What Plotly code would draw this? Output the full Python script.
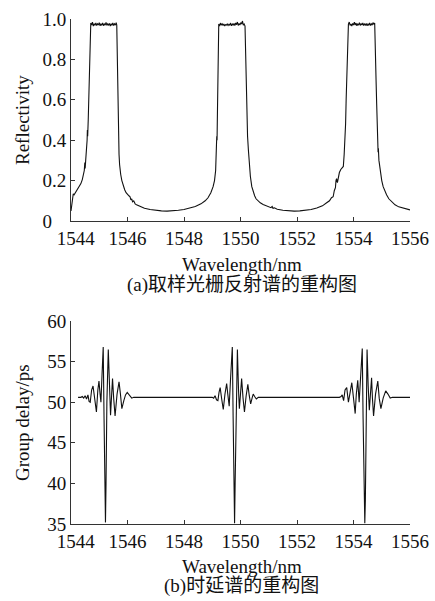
import plotly.graph_objects as go

# ---------------- data ----------------
# (a) reflectivity spectrum
wl_refl = [
    1544.00, 1544.03, 1544.06, 1544.08, 1544.11, 1544.15, 1544.20, 1544.25, 1544.30, 1544.35,
    1544.40, 1544.44, 1544.47, 1544.49, 1544.50, 1544.52, 1544.55, 1544.57, 1544.58, 1544.59,
    1544.61, 1544.63, 1544.65, 1544.67, 1544.69,
    1544.70, 1544.73, 1544.76, 1544.79, 1544.82, 1544.85, 1544.88, 1544.91, 1544.94, 1544.97,
    1545.00, 1545.03, 1545.06, 1545.09, 1545.12, 1545.15, 1545.18, 1545.21, 1545.24, 1545.27,
    1545.30, 1545.33, 1545.36, 1545.39, 1545.42, 1545.45, 1545.48, 1545.51, 1545.54, 1545.57,
    1545.60, 1545.62,
    1545.63, 1545.64, 1545.65, 1545.66, 1545.67, 1545.68, 1545.70, 1545.72, 1545.73, 1545.74,
    1545.76, 1545.80, 1545.85, 1545.90, 1545.95, 1546.00, 1546.05, 1546.09, 1546.12, 1546.15,
    1546.18, 1546.22, 1546.27, 1546.32, 1546.40, 1546.50, 1546.60, 1546.80, 1547.00, 1547.20,
    1547.40, 1547.60, 1547.80, 1548.00, 1548.20, 1548.40, 1548.60, 1548.75, 1548.85, 1548.95,
    1549.03, 1549.08, 1549.12, 1549.14, 1549.15, 1549.16, 1549.17, 1549.18, 1549.20, 1549.21,
    1549.22,
    1549.23, 1549.26, 1549.29, 1549.32, 1549.35, 1549.38, 1549.41, 1549.44, 1549.47, 1549.50,
    1549.53, 1549.56, 1549.59, 1549.62, 1549.65, 1549.68, 1549.71, 1549.74, 1549.77, 1549.80,
    1549.83, 1549.86, 1549.89, 1549.92, 1549.95, 1549.98, 1550.01, 1550.04, 1550.07, 1550.10,
    1550.13, 1550.16,
    1550.18, 1550.19, 1550.21, 1550.23, 1550.25, 1550.28, 1550.31, 1550.35, 1550.40, 1550.45,
    1550.50, 1550.55, 1550.62, 1550.70, 1550.80, 1550.90, 1551.00, 1551.08, 1551.12, 1551.15,
    1551.20, 1551.30, 1551.50, 1551.70, 1551.90, 1552.10, 1552.30, 1552.50, 1552.70, 1552.90,
    1553.05, 1553.15, 1553.22, 1553.28, 1553.32, 1553.36, 1553.38, 1553.40, 1553.43, 1553.46,
    1553.50, 1553.55, 1553.60, 1553.64, 1553.67, 1553.70, 1553.72, 1553.74, 1553.76, 1553.78,
    1553.80,
    1553.82, 1553.85, 1553.88, 1553.91, 1553.94, 1553.97, 1554.00, 1554.03, 1554.06, 1554.09,
    1554.12, 1554.15, 1554.18, 1554.21, 1554.24, 1554.27, 1554.30, 1554.33, 1554.36, 1554.39,
    1554.42, 1554.45, 1554.48, 1554.51, 1554.54, 1554.57, 1554.60, 1554.63, 1554.66, 1554.69,
    1554.72, 1554.75,
    1554.77, 1554.78, 1554.80, 1554.82, 1554.84, 1554.86, 1554.87, 1554.88, 1554.90, 1554.93,
    1554.96, 1555.00, 1555.05, 1555.10, 1555.17, 1555.25, 1555.35, 1555.47, 1555.60, 1555.71,
    1555.85, 1556.00,
]
reflectivity = [
    0.050, 0.090, 0.125, 0.135, 0.130, 0.140, 0.150, 0.160, 0.170, 0.185,
    0.205, 0.225, 0.250, 0.290, 0.260, 0.300, 0.340, 0.400, 0.450, 0.420,
    0.500, 0.650, 0.800, 0.900, 0.965,
    0.980, 0.970, 0.985, 0.965, 0.975, 0.970, 0.980, 0.968, 0.976, 0.970,
    0.982, 0.966, 0.975, 0.970, 0.980, 0.967, 0.975, 0.970, 0.983, 0.968,
    0.976, 0.970, 0.978, 0.965, 0.975, 0.970, 0.980, 0.968, 0.976, 0.970,
    0.982, 0.970,
    0.850, 0.740, 0.700, 0.550, 0.430, 0.400, 0.330, 0.280, 0.260, 0.270,
    0.230, 0.200, 0.175, 0.155, 0.140, 0.130, 0.125, 0.120, 0.105, 0.110,
    0.095, 0.100, 0.085, 0.080, 0.075, 0.068, 0.063, 0.057, 0.053, 0.050,
    0.049, 0.050, 0.053, 0.057, 0.063, 0.072, 0.085, 0.100, 0.115, 0.140,
    0.170, 0.200, 0.250, 0.300, 0.380, 0.420, 0.400, 0.500, 0.700, 0.850,
    0.950,
    0.975, 0.965, 0.980, 0.970, 0.976, 0.968, 0.975, 0.965, 0.972, 0.970,
    0.975, 0.968, 0.974, 0.970, 0.980, 0.966, 0.975, 0.970, 0.978, 0.968,
    0.980, 0.972, 0.985, 0.968, 0.978, 0.970, 0.982, 0.975, 0.990, 0.970,
    0.975, 0.965,
    0.850, 0.700, 0.600, 0.500, 0.420, 0.350, 0.280, 0.220, 0.170, 0.145,
    0.125, 0.110, 0.100, 0.090, 0.082, 0.075, 0.070, 0.066, 0.072, 0.063,
    0.065, 0.058, 0.053, 0.050, 0.049, 0.050, 0.053, 0.057, 0.064, 0.075,
    0.090, 0.100, 0.115, 0.120, 0.150, 0.165, 0.200, 0.210, 0.190, 0.220,
    0.240, 0.255, 0.265, 0.270, 0.330, 0.400, 0.480, 0.600, 0.720, 0.880,
    0.970,
    0.975, 0.985, 0.968, 0.975, 0.965, 0.978, 0.970, 0.985, 0.970, 0.980,
    0.966, 0.975, 0.970, 0.982, 0.968, 0.976, 0.970, 0.980, 0.968, 0.975,
    0.970, 0.978, 0.966, 0.975, 0.970, 0.980, 0.968, 0.976, 0.970, 0.982,
    0.975, 0.980,
    0.900, 0.800, 0.690, 0.580, 0.450, 0.360, 0.340, 0.360, 0.300, 0.260,
    0.230, 0.200, 0.170, 0.150, 0.130, 0.110, 0.095, 0.080, 0.070, 0.065,
    0.060, 0.055,
]

# (b) group delay spectrum
wl_delay = [
    1544.25, 1544.35, 1544.40, 1544.45, 1544.50, 1544.55, 1544.60, 1544.64, 1544.68, 1544.73,
    1544.78, 1544.84, 1544.90, 1544.95, 1544.99, 1545.03, 1545.06, 1545.10, 1545.14, 1545.17,
    1545.20, 1545.22, 1545.24, 1545.27, 1545.32, 1545.36, 1545.40, 1545.44, 1545.47, 1545.51,
    1545.56, 1545.63, 1545.70, 1545.75, 1545.80, 1545.87, 1545.93, 1545.99, 1546.07, 1546.15,
    1546.22,
    1549.00, 1549.05, 1549.10, 1549.15, 1549.20, 1549.24, 1549.28, 1549.33, 1549.39, 1549.45,
    1549.51, 1549.55, 1549.60, 1549.65, 1549.71, 1549.74, 1549.77, 1549.79, 1549.81, 1549.84,
    1549.89, 1549.93, 1549.96, 1550.00, 1550.04, 1550.09, 1550.14, 1550.20, 1550.26, 1550.31,
    1550.36, 1550.41, 1550.45, 1550.50, 1550.56, 1550.63,
    1553.50, 1553.56, 1553.60, 1553.65, 1553.70, 1553.76, 1553.82, 1553.87, 1553.94, 1554.00,
    1554.06, 1554.10, 1554.15, 1554.20, 1554.26, 1554.31, 1554.34, 1554.37, 1554.40, 1554.42,
    1554.45, 1554.48, 1554.52, 1554.56, 1554.60, 1554.64, 1554.67, 1554.71, 1554.78, 1554.86,
    1554.91, 1554.97, 1555.05, 1555.14, 1555.22, 1555.30, 1555.38, 1556.00,
]
group_delay = [
    50.6, 50.6, 50.7, 50.5, 50.8, 50.4, 50.9, 50.1, 50.0, 51.5,
    52.0, 50.5, 48.8, 51.5, 52.6, 51.0, 50.0, 53.5, 56.8, 48.0,
    37.5, 35.2, 40.0, 50.0, 56.5, 51.5, 48.4, 51.0, 52.9, 50.5,
    48.3, 51.0, 52.5, 51.0, 49.2, 50.2, 50.9, 51.2, 50.8, 50.5,
    50.6,
    50.6, 50.5, 50.8, 50.3, 50.2, 51.2, 51.8, 50.5, 49.1, 51.0,
    52.3, 51.0, 49.5, 53.0, 56.8, 48.0, 37.5, 35.1, 40.0, 49.0,
    56.5, 51.5, 49.2, 51.0, 52.9, 50.5, 48.8, 50.8, 52.2, 50.8,
    49.8, 50.5, 51.0, 50.7, 50.4, 50.6,
    50.6, 50.7, 50.9, 50.2, 51.5, 51.8, 50.0, 51.0, 52.4, 50.5,
    48.6, 51.0, 52.7, 50.0, 53.5, 56.6, 48.0, 40.0, 35.1, 38.0,
    48.0, 56.5, 52.0, 49.0, 51.0, 53.0, 50.5, 48.3, 51.0, 52.6,
    50.5, 49.2, 50.5, 51.4, 51.0, 50.5, 50.6, 50.6,
]

x_ticks = [1544, 1546, 1548, 1550, 1552, 1554, 1556]
x_ticktext = ["\u00a0\u00a01544", "1546", "1548", "1550", "1552", "1554", "1556"]
refl_ticks = [0, 0.2, 0.4, 0.6, 0.8, 1.0]
refl_ticktext = ["0\u00a0\u00a0\u00a0", "0.2", "0.4", "0.6", "0.8", "1.0"]
delay_ticks = [35, 40, 45, 50, 55, 60]
delay_ticktext = ["35", "40", "45", "50", "55", "60"]

x_title = "Wavelength/nm"
refl_title = "Reflectivity"
delay_title = "Group delay/ps"
caption_a = "(a)取样光栅反射谱的重构图"
caption_b = "(b)时延谱的重构图"

# ---------------- figure ----------------
W, H = 435, 601
FONT = "Liberation Serif, Noto Sans CJK SC, serif"
FS = 19
INK = "#111111"

fig = go.Figure()
fig.add_trace(go.Scatter(x=wl_refl, y=reflectivity, mode="lines",
                         line=dict(color="#111111", width=1.1),
                         xaxis="x", yaxis="y", showlegend=False))
fig.add_trace(go.Scatter(x=wl_delay, y=group_delay, mode="lines",
                         line=dict(color="#111111", width=1.1),
                         xaxis="x2", yaxis="y2", showlegend=False))

def px_x(p):
    return p / W

def px_y(p):
    return (H - p) / H

axis_common = dict(showgrid=False, zeroline=False, showline=True, linecolor="#333333",
                   linewidth=1, ticks="inside", ticklen=4, tickcolor="#333333",
                   automargin=False,
                   tickfont=dict(family=FONT, size=FS, color=INK), mirror=False)

x_dom = [px_x(71), px_x(410)]
fig.update_layout(
    template="none",
    width=W, height=H,
    margin=dict(l=0, r=0, t=0, b=0, pad=0),
    paper_bgcolor="white", plot_bgcolor="white",
    font=dict(family=FONT, size=FS, color=INK),
    xaxis=dict(domain=x_dom, range=[1544, 1556], tickvals=x_ticks, ticktext=x_ticktext,
               anchor="y", **axis_common),
    yaxis=dict(domain=[px_y(221), px_y(19)], range=[0, 1], tickvals=refl_ticks,
               ticktext=refl_ticktext, anchor="x", **axis_common),
    xaxis2=dict(domain=x_dom, range=[1544, 1556], tickvals=x_ticks, ticktext=x_ticktext,
                anchor="y2", **axis_common),
    yaxis2=dict(domain=[px_y(524), px_y(321)], range=[35, 60], tickvals=delay_ticks,
                ticktext=delay_ticktext, anchor="x2", **axis_common),
)

ann = dict(xref="paper", yref="paper", showarrow=False,
           font=dict(family=FONT, size=FS, color=INK), xanchor="center", yanchor="middle")
fig.add_annotation(text=x_title, x=px_x(241.5), y=px_y(264), **ann)
fig.add_annotation(text=caption_a, x=px_x(241.5), y=px_y(285), **ann)
fig.add_annotation(text=x_title, x=px_x(241.5), y=px_y(566), **ann)
fig.add_annotation(text=caption_b, x=px_x(241.5), y=px_y(586), **ann)
fig.add_annotation(text=refl_title, x=px_x(22), y=px_y(120), textangle=-90, **ann)
fig.add_annotation(text=delay_title, x=px_x(22), y=px_y(423), textangle=-90, **ann)

fig.write_html("out.html", config={"displayModeBar": False},
               post_script="document.body.style.margin='0';document.body.style.padding='0';")
